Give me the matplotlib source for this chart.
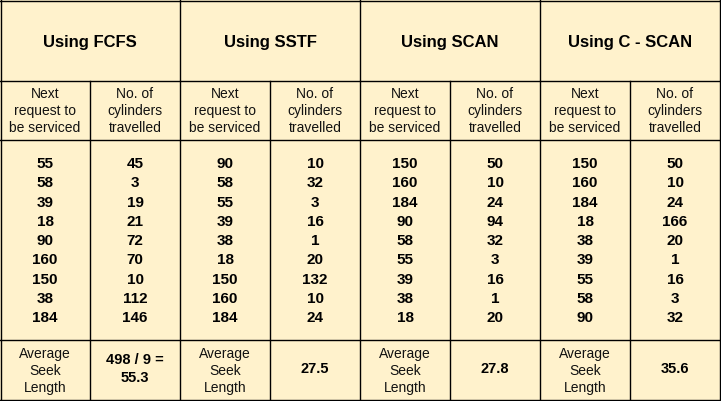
import matplotlib.pyplot as plt

# Data
methods = ["Using FCFS", "Using SSTF", "Using SCAN", "Using C - SCAN"]
fcfs_req = [55, 58, 39, 18, 90, 160, 150, 38, 184]
fcfs_cyl = [45, 3, 19, 21, 72, 70, 10, 112, 146]
sstf_req = [90, 58, 55, 39, 38, 18, 150, 160, 184]
sstf_cyl = [10, 32, 3, 16, 1, 20, 132, 10, 24]
scan_req = [150, 160, 184, 90, 58, 55, 39, 38, 18]
scan_cyl = [50, 10, 24, 94, 32, 3, 16, 1, 20]
cscan_req = [150, 160, 184, 18, 38, 39, 55, 58, 90]
cscan_cyl = [50, 10, 24, 166, 20, 1, 16, 3, 32]
averages = ["498 / 9 =\n55.3", "27.5", "27.8", "35.6"]

columns = [fcfs_req, fcfs_cyl, sstf_req, sstf_cyl,
           scan_req, scan_cyl, cscan_req, cscan_cyl]

W, H = 721, 401
fig = plt.figure(figsize=(W / 100, H / 100), dpi=100)
fig.patch.set_facecolor("#FFF2CC")
ax = fig.add_axes([0, 0, 1, 1])
ax.set_xlim(0, W)
ax.set_ylim(H, 0)
ax.axis("off")
ax.set_facecolor("#FFF2CC")

col_w = 90
font = "Liberation Sans"
lw = 1.0

# grid lines
for y in [0.5, 81, 140, 340, 400]:
    ax.plot([0, W], [y, y], color="black", lw=lw)
for i in range(9):
    x = min(max(i * col_w, 0.5), 720)
    if i % 2 == 0:
        ax.plot([x, x], [0, H], color="black", lw=lw)
    else:
        ax.plot([x, x], [81, 400], color="black", lw=lw)

for i, m in enumerate(methods):
    ax.text((2 * i + 1) * col_w, 42, m, ha="center", va="center",
            fontsize=12, fontweight="bold", family=font)
    ax.text((2 * i + 0.5) * col_w, 111, "Next\nrequest to\nbe serviced",
            ha="center", va="center", fontsize=10, family=font,
            linespacing=1.3, color="#111111")
    ax.text((2 * i + 1.5) * col_w, 111, "No. of\ncylinders\ntravelled",
            ha="center", va="center", fontsize=10, family=font,
            linespacing=1.3, color="#111111")
    ax.text((2 * i + 0.5) * col_w, 371, "Average\nSeek\nLength",
            ha="center", va="center", fontsize=10, family=font,
            linespacing=1.3, color="#111111")
    ax.text((2 * i + 1.5) * col_w, 369, averages[i], ha="center",
            va="center", fontsize=10.5, fontweight="bold", family=font,
            linespacing=1.3)

for c, vals in enumerate(columns):
    for r, v in enumerate(vals):
        ax.text((c + 0.5) * col_w, 164 + r * 19.3, str(v), ha="center",
                va="center", fontsize=11, fontweight="bold", family=font)

fig.savefig("out.png", dpi=100, facecolor=fig.get_facecolor())
